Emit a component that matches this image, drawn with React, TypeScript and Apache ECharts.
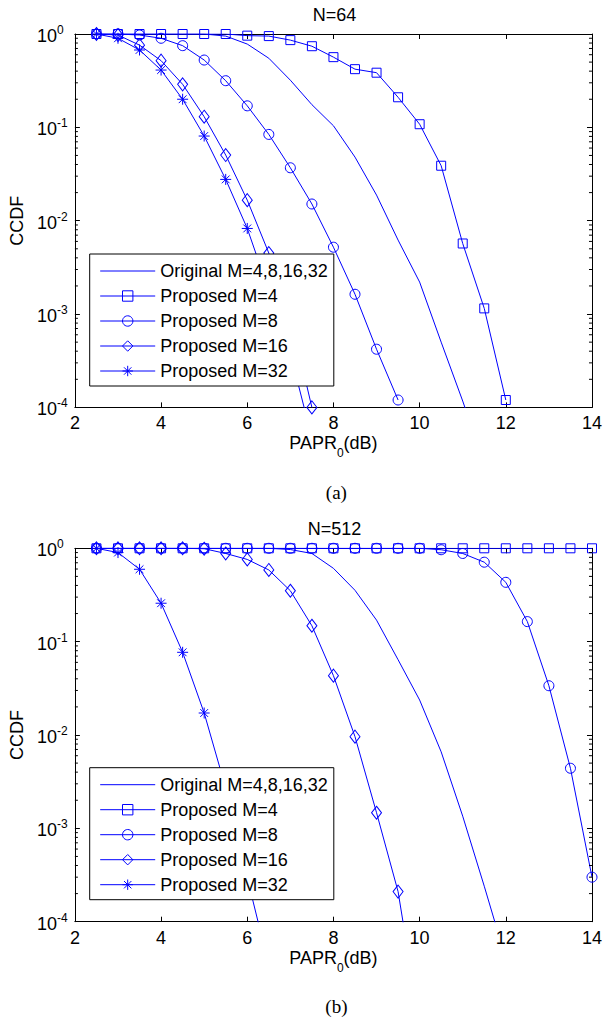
import React, { useEffect, useRef } from 'react';
import * as echarts from 'echarts';

// ---------- data (N=64) ----------
const topOrigX = [2.5, 3, 3.5, 4, 4.5, 5, 5.5, 6, 6.5, 7, 7.5, 8, 8.5, 9, 9.5, 10, 10.5, 11, 11.5];
const topOrigY = [1, 1, 1, 1, 1, 1, 0.95, 0.78, 0.55, 0.32, 0.175, 0.104, 0.048, 0.0188, 0.0062, 0.0022, 0.0005, 0.000117, 0.000025];
const topM4X = [2.5, 3, 3.5, 4, 4.5, 5, 5.5, 6, 6.5, 7, 7.5, 8, 8.5, 9, 9.5, 10, 10.5, 11, 11.5, 12];
const topM4Y = [1, 1, 1, 1, 1, 1, 1, 0.96, 0.95, 0.86, 0.74, 0.565, 0.42, 0.385, 0.21, 0.108, 0.0388, 0.0057, 0.00115, 0.00012];
const topM8X = [2.5, 3, 3.5, 4, 4.5, 5, 5.5, 6, 6.5, 7, 7.5, 8, 8.5, 9, 9.5];
const topM8Y = [1, 1, 0.975, 0.9, 0.75, 0.526, 0.316, 0.17, 0.084, 0.0369, 0.0151, 0.0052, 0.00163, 0.00042, 0.00012];
const topM16X = [2.5, 3, 3.5, 4, 4.5, 5, 5.5, 6, 6.5, 7, 7.5];
const topM16Y = [1, 0.975, 0.76, 0.518, 0.289, 0.13, 0.0505, 0.0166, 0.0045, 0.00095, 0.0001];
const topM32X = [2.5, 3, 3.5, 4, 4.5, 5, 5.5, 6, 6.5, 7, 7.5];
const topM32Y = [1, 0.9, 0.674, 0.411, 0.2, 0.0807, 0.0277, 0.00826, 0.00178, 0.00038, 0.000047];

// ---------- data (N=512) ----------
const botOrigX = [2.5, 3, 3.5, 4, 4.5, 5, 5.5, 6, 6.5, 7, 7.5, 8, 8.5, 9, 9.5, 10, 10.5, 11, 11.5, 12];
const botOrigY = [1, 1, 1, 1, 1, 1, 1, 1, 1, 0.97, 0.88, 0.61, 0.355, 0.17, 0.064, 0.0237, 0.0066, 0.00135, 0.00024, 0.00004];
const botM4X = [2.5, 3, 3.5, 4, 4.5, 5, 5.5, 6, 6.5, 7, 7.5, 8, 8.5, 9, 9.5, 10, 10.5, 11, 11.5, 12, 12.5, 13, 13.5, 14];
const botM4Y = [1, 1, 1, 1, 1, 1, 1, 1, 1, 1, 1, 1, 1, 1, 1, 1, 1, 1, 1, 1, 1, 1, 1, 1];
const botM8X = [2.5, 3, 3.5, 4, 4.5, 5, 5.5, 6, 6.5, 7, 7.5, 8, 8.5, 9, 9.5, 10, 10.5, 11, 11.5, 12, 12.5, 13, 13.5, 14];
const botM8Y = [1, 1, 1, 1, 1, 1, 1, 1, 1, 1, 1, 1, 1, 1, 1, 1, 0.965, 0.88, 0.71, 0.432, 0.164, 0.0337, 0.0044, 0.0003];
const botM16X = [2.5, 3, 3.5, 4, 4.5, 5, 5.5, 6, 6.5, 7, 7.5, 8, 8.5, 9, 9.5, 10];
const botM16Y = [1, 1, 1, 1, 1, 0.99, 0.88, 0.76, 0.586, 0.351, 0.148, 0.0432, 0.0096, 0.00147, 0.00021, 0.000008];
const botM32X = [2.5, 3, 3.5, 4, 4.5, 5, 5.5, 6, 6.5];
const botM32Y = [1, 0.9, 0.596, 0.258, 0.0769, 0.0172, 0.0027, 0.000295, 0.000034];

// ---------- labels ----------
const seriesNames = ['Original M=4,8,16,32', 'Proposed M=4', 'Proposed M=8', 'Proposed M=16', 'Proposed M=32'];
const titles = ['N=64', 'N=512'];
const captions = ['(a)', '(b)'];
const xTicks = [2, 4, 6, 8, 10, 12, 14];
const yDecades = [1e-4, 1e-3, 1e-2, 1e-1, 1];
const minorMultipliers = [2, 3, 4, 5, 6, 7, 8, 9];

const BLUE = '#0000ff';
const CLEAR = 'rgba(0,0,0,0)';
const FONT = '"Liberation Sans", Arial, Helvetica, sans-serif';
const SERIF = '"Liberation Serif", "Times New Roman", serif';
const STAR = 'path://M0,-10L0,10M-10,0L10,0M-7.07,-7.07L7.07,7.07M-7.07,7.07L7.07,-7.07';

const GRID_LEFT = 74.5;
const GRID_W = 519.8;
const GRID_H = 373.4;
const GRID_TOPS = [34, 548.3];
const LEGEND_TOPS = [254, 767.7];

const minorVals: number[] = [];
yDecades.slice(0, 4).forEach((d) => minorMultipliers.forEach((m) => minorVals.push(m * d)));

function pairs(xs: number[], ys: number[]) {
  return xs.map((x, i) => [x, ys[i]]);
}

function lineSeries(name: string, xs: number[], ys: number[], g: number, symbol: string, size: any) {
  return {
    type: 'line',
    name,
    xAxisIndex: g * 2,
    yAxisIndex: g * 2,
    data: pairs(xs, ys),
    symbol,
    symbolSize: size,
    showSymbol: symbol !== 'none',
    showAllSymbol: true,
    lineStyle: { color: BLUE, width: 1 },
    itemStyle: { color: CLEAR, borderColor: BLUE, borderWidth: 1 },
    emphasis: { disabled: true },
    z: 3,
  };
}

function minorTickSeries(g: number) {
  return {
    type: 'custom',
    xAxisIndex: g * 2,
    yAxisIndex: g * 2,
    silent: true,
    data: minorVals.map((v) => [xTicks[0], v]),
    renderItem: (_p: any, api: any) => {
      const v = api.value(1);
      const l = api.coord([xTicks[0], v]);
      const r = api.coord([xTicks[xTicks.length - 1], v]);
      return {
        type: 'group',
        children: [
          { type: 'line', shape: { x1: l[0], y1: l[1], x2: l[0] + 3, y2: l[1] }, style: { stroke: '#000', lineWidth: 1 } },
          { type: 'line', shape: { x1: r[0] - 3, y1: r[1], x2: r[0], y2: r[1] }, style: { stroke: '#000', lineWidth: 1 } },
        ],
      };
    },
    z: 4,
  };
}

function buildOption() {
  const grids = GRID_TOPS.map((t) => ({ left: GRID_LEFT, top: t, width: GRID_W, height: GRID_H }));
  const xAxes: any[] = [];
  const yAxes: any[] = [];
  [0, 1].forEach((g) => {
    const common = {
      type: 'value',
      gridIndex: g,
      min: xTicks[0],
      max: xTicks[xTicks.length - 1],
      interval: 2,
      splitLine: { show: false },
      axisLine: { onZero: false, lineStyle: { color: '#000', width: 1 } },
      axisTick: { inside: true, length: 5, lineStyle: { color: '#000', width: 1 } },
    };
    xAxes.push({
      ...common,
      position: 'bottom',
      axisLabel: { color: '#000', fontSize: 18, fontFamily: FONT, margin: 7, showMinLabel: true, showMaxLabel: true },
      name: '{a|PAPR}{s|0}{a|(dB)}',
      nameLocation: 'middle',
      nameGap: 27,
      nameTextStyle: {
        rich: {
          a: { fontSize: 18, fontFamily: FONT, color: '#000', lineHeight: 20, verticalAlign: 'top' },
          s: { fontSize: 12, fontFamily: FONT, color: '#000', lineHeight: 12, verticalAlign: 'top', padding: [13, 0, 0, 0] },
        },
      },
    });
    xAxes.push({ ...common, position: 'top', axisLabel: { show: false } });
    const ycommon = {
      type: 'log',
      logBase: 10,
      gridIndex: g,
      min: yDecades[0],
      max: yDecades[yDecades.length - 1],
      splitNumber: 4,
      splitLine: { show: false },
      axisLine: { onZero: false, lineStyle: { color: '#000', width: 1 } },
      axisTick: { inside: true, length: 5, lineStyle: { color: '#000', width: 1 } },
    };
    yAxes.push({
      ...ycommon,
      position: 'left',
      axisLabel: {
        align: 'left',
        margin: 38,
        formatter: (v: number) => `{b|10}{e|${Math.round(Math.log10(v))}}`,
        rich: {
          b: { fontSize: 18, fontFamily: FONT, color: '#000', lineHeight: 20, verticalAlign: 'top', padding: [3, 0, 0, 0] },
          e: { fontSize: 12, fontFamily: FONT, color: '#000', lineHeight: 12, verticalAlign: 'top' },
        },
      },
      name: 'CCDF',
      nameLocation: 'middle',
      nameGap: 48,
      nameTextStyle: { fontSize: 18, fontFamily: FONT, color: '#000' },
    });
    yAxes.push({ ...ycommon, position: 'right', axisLabel: { show: false } });
  });

  const series: any[] = [
    lineSeries(seriesNames[0], topOrigX, topOrigY, 0, 'none', 0),
    lineSeries(seriesNames[1], topM4X, topM4Y, 0, 'rect', 9),
    lineSeries(seriesNames[2], topM8X, topM8Y, 0, 'circle', 10),
    lineSeries(seriesNames[3], topM16X, topM16Y, 0, 'diamond', [10, 13]),
    lineSeries(seriesNames[4], topM32X, topM32Y, 0, STAR, 11),
    lineSeries(seriesNames[0], botOrigX, botOrigY, 1, 'none', 0),
    lineSeries(seriesNames[1], botM4X, botM4Y, 1, 'rect', 9),
    lineSeries(seriesNames[2], botM8X, botM8Y, 1, 'circle', 10),
    lineSeries(seriesNames[3], botM16X, botM16Y, 1, 'diamond', [10, 13]),
    lineSeries(seriesNames[4], botM32X, botM32Y, 1, STAR, 11),
    minorTickSeries(0),
    minorTickSeries(1),
  ];

  const legendData = seriesNames.map((n, i) =>
    i === 0
      ? { name: n, itemStyle: { color: CLEAR, borderColor: CLEAR, borderWidth: 0 } }
      : { name: n }
  );

  const legends = LEGEND_TOPS.map((t) => ({
    left: 89.7,
    top: t,
    orient: 'vertical',
    data: legendData,
    itemWidth: 55,
    itemHeight: 13,
    itemGap: 5,
    padding: [7, 6, 5, 10],
    borderColor: '#000',
    borderWidth: 1,
    backgroundColor: '#fff',
    selectedMode: false,
    lineStyle: { color: BLUE, width: 1 },
    itemStyle: { color: CLEAR, borderColor: BLUE, borderWidth: 1 },
    textStyle: { fontSize: 18, fontFamily: FONT, color: '#000', lineHeight: 20 },
    z: 10,
  }));

  const cx = GRID_LEFT + GRID_W / 2;
  const graphic: any[] = [];
  [0, 1].forEach((g) => {
    graphic.push({
      type: 'text',
      x: cx,
      y: GRID_TOPS[g] - 19,
      style: { text: titles[g], fontSize: 18, fontFamily: FONT, fill: '#000', textAlign: 'center', textVerticalAlign: 'middle' },
    });
    graphic.push({
      type: 'text',
      x: cx + 2,
      y: GRID_TOPS[g] + GRID_H + 85,
      style: { text: captions[g], fontSize: 19, fontFamily: SERIF, fill: '#000', textAlign: 'center', textVerticalAlign: 'middle' },
    });
  });

  return {
    animation: false,
    backgroundColor: '#fff',
    grid: grids,
    xAxis: xAxes,
    yAxis: yAxes,
    legend: legends,
    series,
    graphic,
  };
}

export default function App() {
  const ref = useRef<HTMLDivElement>(null);
  useEffect(() => {
    if (!ref.current) return;
    const chart = echarts.init(ref.current, undefined, { renderer: 'svg' });
    chart.setOption(buildOption() as any);
    return () => chart.dispose();
  }, []);
  return <div ref={ref} style={{ position: 'absolute', left: 0, top: 0, width: 605, height: 1017 }} />;
}
